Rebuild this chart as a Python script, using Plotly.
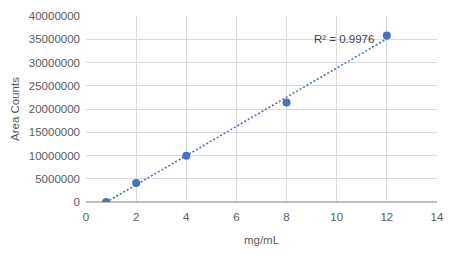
import numpy as np
import plotly.graph_objects as go

conc = [0.8, 2, 4, 8, 12]
area = [0, 4100000, 9950000, 21400000, 35800000]
x_ticks = [0, 2, 4, 6, 8, 10, 12, 14]
y_ticks = [0, 5000000, 10000000, 15000000, 20000000, 25000000, 30000000, 35000000, 40000000]

x = np.array(conc, dtype=float)
y = np.array(area, dtype=float)
m, b = np.polyfit(x, y, 1)
r2_text = "R² = 0.9976"

fx = np.array([x.min(), x.max()])
fig = go.Figure()
fig.add_trace(go.Scatter(x=fx, y=m * fx + b, mode="lines",
                         line=dict(color="#4472C4", width=1.6, dash="2px,2px"),
                         hoverinfo="skip", showlegend=False))
fig.add_trace(go.Scatter(x=conc, y=area, mode="markers",
                         marker=dict(color="#4472C4", size=8),
                         showlegend=False))

fig.add_annotation(x=11.55, y=35000000, text=r2_text, showarrow=False,
                   xanchor="right", yanchor="middle",
                   font=dict(family="Liberation Sans", size=11.5, color="#404040"))

fig.update_layout(
    width=454, height=262,
    margin=dict(l=86, r=17, t=10, b=60),
    paper_bgcolor="white", plot_bgcolor="white",
    font=dict(family="Liberation Sans", size=11.5, color="#595959"),
    xaxis=dict(range=[0, 14], tickvals=x_ticks, showgrid=True, gridcolor="#D9D9D9",
               gridwidth=1, zeroline=False, showline=False, ticks="",
               ticklabelstandoff=6,
               title=dict(text="mg/mL", font=dict(size=11.5, color="#595959"), standoff=14)),
    yaxis=dict(range=[0, 40000000], tickvals=y_ticks, tickformat="d", showgrid=True,
               gridcolor="#D9D9D9", gridwidth=1, zeroline=True, zerolinecolor="#BFBFBF",
               showline=False, ticks="", ticklabelstandoff=5,
               title=dict(text="Area Counts", font=dict(size=11.5, color="#595959"), standoff=6)),
)
fig.write_html("out.html")
